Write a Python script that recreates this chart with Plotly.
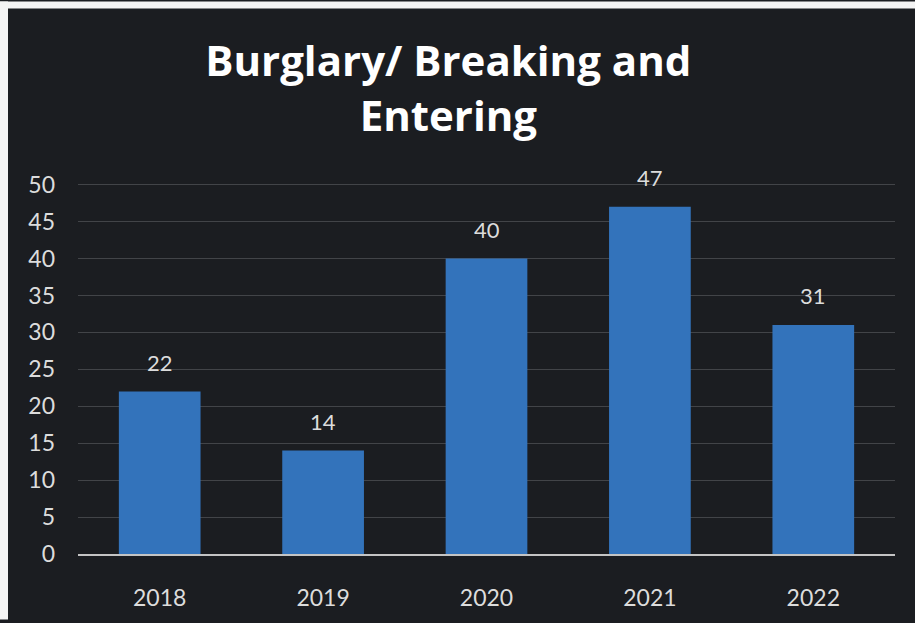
import plotly.graph_objects as go

# Reported incidents per year
years = ["2018", "2019", "2020", "2021", "2022"]
counts = [22, 14, 40, 47, 31]
y_ticks = [0, 5, 10, 15, 20, 25, 30, 35, 40, 45, 50]

BG = "#1b1d21"
BAR = "#3373bb"
TEXT = "#dcdcdc"

fig = go.Figure(
    go.Bar(
        x=years,
        y=counts,
        marker=dict(color=BAR, line=dict(width=0)),
        hoverinfo="x+y",
    )
)

# value labels sitting above each bar (category axis positions are 0..n-1)
for i, v in enumerate(counts):
    fig.add_annotation(
        x=i, y=v, text=str(v), showarrow=False,
        yanchor="bottom", yshift=14,
        font=dict(family="Lato", size=22, color=TEXT),
    )

fig.update_layout(
    width=915,
    height=623,
    margin=dict(l=78, r=20, t=181, b=66),
    paper_bgcolor=BG,
    plot_bgcolor="rgba(0,0,0,0)",
    bargap=0.5,
    showlegend=False,
    title=dict(
        text="Burglary/ Breaking and<br>Entering",
        x=0.49, xref="container", xanchor="center",
        y=1 - 76 / 623, yref="container", yanchor="top",
        font=dict(family="Open Sans", size=42, color="#ffffff", weight="bold"),
    ),
    xaxis=dict(
        type="category",
        range=[-0.5, len(years) - 0.5],
        showgrid=False,
        showline=True, linecolor="#c4c4c4", linewidth=2,
        ticks="", ticklabelstandoff=22,
        tickfont=dict(family="Lato", size=23, color=TEXT),
    ),
    yaxis=dict(
        range=[0, 50.5],
        tickvals=y_ticks,
        showgrid=True, gridcolor="#424448", gridwidth=1,
        zeroline=False, showline=False,
        ticks="", ticklabelstandoff=22,
        tickfont=dict(family="Lato", size=23, color=TEXT),
    ),
    shapes=[
        # thin light border along the left and top edges
        dict(type="rect", xref="paper", yref="paper",
             x0=-78 / 817, x1=-70 / 817, y0=-66 / 376, y1=(376 + 181) / 376,
             fillcolor="#f4f4f4", line=dict(width=0), layer="above"),
        dict(type="rect", xref="paper", yref="paper",
             x0=-78 / 817, x1=(817 + 20) / 817, y0=(376 + 174) / 376, y1=(376 + 181) / 376,
             fillcolor="#f4f4f4", line=dict(width=0), layer="above"),
    ],
)

fig.write_html("out.html")
